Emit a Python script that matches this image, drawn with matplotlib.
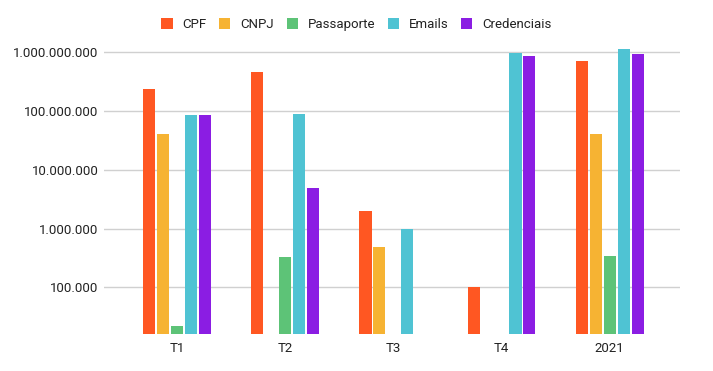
import matplotlib
matplotlib.use("Agg")
import matplotlib.pyplot as plt
import numpy as np
from matplotlib.ticker import FixedLocator, FuncFormatter, NullLocator

plt.rcParams['font.family'] = ['Roboto', 'DejaVu Sans']

categories = ["T1", "T2", "T3", "T4", "2021"]
series_names = ["CPF", "CNPJ", "Passaporte", "Emails", "Credenciais"]
cpf = [235e6, 457e6, 1.98e6, 1.0e5, 703e6]
cnpj = [40.4e6, np.nan, 480e3, np.nan, 40.4e6]
passaporte = [22.1e3, 327e3, np.nan, np.nan, 340e3]
emails = [85e6, 88e6, 980e3, 970e6, 1.125e9]
credenciais = [85e6, 4.86e6, np.nan, 855e6, 925e6]
colors = ["#FF5722", "#F6B333", "#5DC377", "#4FC3D3", "#8B1DE3"]

data = [cpf, cnpj, passaporte, emails, credenciais]

fig = plt.figure(figsize=(7.13, 3.71), dpi=100)
ax = fig.add_axes([104/713, 1-333.7/371, (680-104)/713, (333.7-45)/371])

x = np.arange(len(categories))
step = 0.129
width = 0.112
bottom = 16250
for i, (vals, name, c) in enumerate(zip(data, series_names, colors)):
    v = np.array(vals, dtype=float)
    pos = x + (i - 2) * step
    mask = ~np.isnan(v)
    ax.bar(pos[mask], v[mask] - bottom, bottom=bottom, width=width, color=c, label=name, zorder=3)

ax.set_yscale('log')
ax.set_ylim(bottom, 1.33e9)
ax.set_xlim(-0.675, 4.65)
ax.yaxis.set_major_locator(FixedLocator([1e5, 1e6, 1e7, 1e8, 1e9]))
ax.yaxis.set_minor_locator(NullLocator())
ax.yaxis.set_major_formatter(FuncFormatter(lambda v, p: f"{int(round(v)):,}".replace(",", ".")))
ax.grid(axis='y', color='#d0d0d0', linewidth=1, zorder=0)
ax.set_xticks(x)
ax.set_xticklabels(categories)
ax.tick_params(axis='both', length=0, labelsize=9.5, colors='#222222')
ax.tick_params(axis='y', pad=4)
ax.tick_params(axis='x', pad=6)
for s in ax.spines.values():
    s.set_visible(False)

fig.legend(loc='center', bbox_to_anchor=(0.5, 1 - 24.5/371), ncol=5, frameon=False,
           fontsize=9.5, handlelength=0.85, handleheight=0.85, handletextpad=0.75,
           columnspacing=0.95, labelcolor='#222222', borderaxespad=0)

fig.savefig("out.png", dpi=100)
